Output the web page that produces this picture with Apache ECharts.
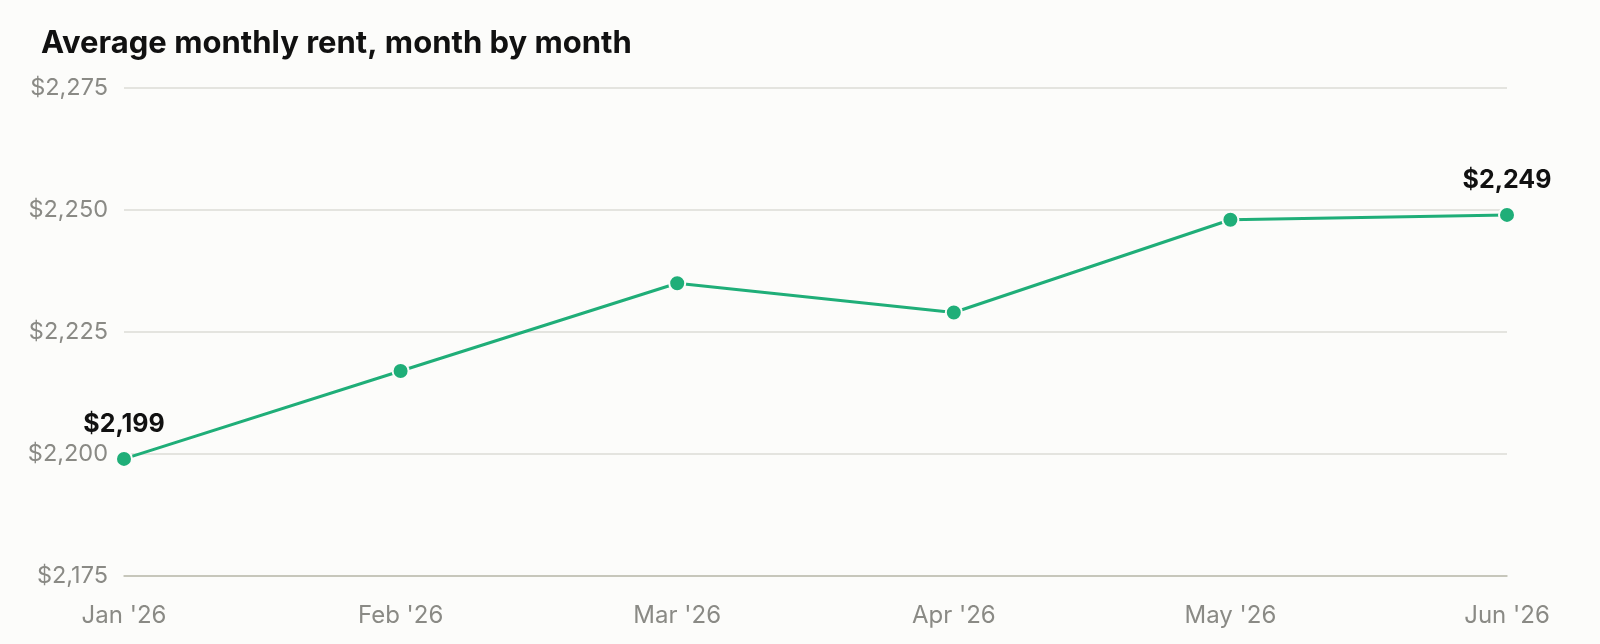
<!DOCTYPE html>
<html>
<head>
<meta charset="utf-8">
<script src="https://cdn.jsdelivr.net/npm/echarts@6/dist/echarts.min.js"></script>
<style>
  html, body { margin: 0; padding: 0; background: #fcfcfa; }
  #chart { width: 1600px; height: 644px; }
</style>
</head>
<body>
<div id="chart"></div>
<script>
var months = ["Jan '26", "Feb '26", "Mar '26", "Apr '26", "May '26", "Jun '26"];
var rent = [2199, 2217, 2235, 2229, 2248, 2249];
var yTicks = [2175, 2200, 2225, 2250, 2275];

var chartDom = document.getElementById('chart');
var myChart = echarts.init(chartDom);
var option;

function money(v) {
  return '$' + v.toLocaleString('en-US');
}

option = {
  backgroundColor: '#fcfcfa',
  textStyle: { fontFamily: 'Inter, "Liberation Sans", sans-serif' },
  title: {
    text: 'Average monthly rent, month by month',
    left: 36,
    top: 23,
    textStyle: { fontSize: 31, fontWeight: 'bold', color: '#111' }
  },
  grid: { left: 124, right: 93, top: 88, bottom: 68 },
  xAxis: {
    type: 'category',
    data: months,
    boundaryGap: false,
    axisLine: { lineStyle: { color: '#bdbdb0', width: 1.5 } },
    axisTick: { show: false },
    axisLabel: { color: '#8a8a85', fontSize: 24, margin: 28 }
  },
  yAxis: {
    type: 'value',
    min: yTicks[0],
    max: yTicks[yTicks.length - 1],
    interval: 25,
    axisLine: { show: false },
    axisTick: { show: false },
    splitLine: { lineStyle: { color: '#dcdcd6', width: 1.5 } },
    axisLabel: { color: '#8a8a85', fontSize: 23.5, margin: 16, formatter: money }
  },
  series: [{
    type: 'line',
    data: rent,
    symbol: 'circle',
    symbolSize: 16,
    lineStyle: { color: '#1fae78', width: 3 },
    itemStyle: { color: '#1fae78', borderColor: '#fcfcfa', borderWidth: 2 },
    label: {
      show: true,
      position: 'top',
      distance: 13,
      fontSize: 25,
      fontWeight: 'bold',
      color: '#111',
      formatter: function (p) {
        return (p.dataIndex === 0 || p.dataIndex === rent.length - 1) ? money(p.value) : '';
      }
    },
    emphasis: { disabled: true }
  }]
};
option && myChart.setOption(option);
</script>
</body>
</html>
